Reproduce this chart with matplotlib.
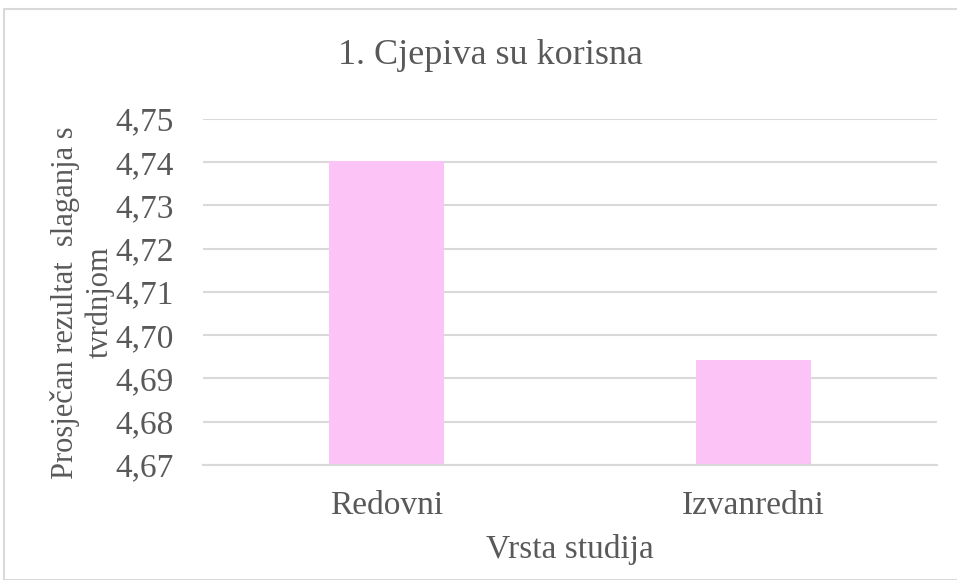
import numpy as np
import matplotlib.pyplot as plt
from matplotlib.patches import Rectangle

kategorije = ["Redovni", "Izvanredni"]
prosjeci = [4.7403, 4.6943]
y_ticks = [4.67, 4.68, 4.69, 4.70, 4.71, 4.72, 4.73, 4.74, 4.75]

siva = "#595959"
plt.rcParams['font.family'] = ['Liberation Serif', 'DejaVu Serif']

fig = plt.figure(figsize=(9.57, 5.8), dpi=100)
ax = fig.add_axes([203 / 957, 1 - 465 / 580, (937 - 203) / 957, (465 - 119) / 580])

x = np.arange(len(kategorije))
ax.bar(x, prosjeci, width=0.313, color="#fcc4f6", zorder=2)

ax.set_xlim(-0.5, 1.5)
ax.set_ylim(4.67, 4.75)
ax.set_yticks(y_ticks)
ax.set_yticklabels([f"{v:.2f}".replace(".", ",") for v in y_ticks])
ax.set_xticks(x)
ax.set_xticklabels(kategorije)
ax.tick_params(length=0, labelsize=24, colors=siva)
ax.tick_params(axis='y', pad=21)
ax.tick_params(axis='x', pad=18)

ax.grid(axis='y', color="#d9d9d9", linewidth=1.5, zorder=0)
for s in ["top", "right", "left"]:
    ax.spines[s].set_visible(False)
ax.spines["bottom"].set_color("#d9d9d9")
ax.spines["bottom"].set_linewidth(1.5)

ax.set_xlabel("Vrsta studija", fontsize=24, color=siva, labelpad=10)
ax.set_ylabel("Prosječan rezultat  slaganja s\ntvrdnjom", fontsize=22, color=siva,
              linespacing=1.25)
ax.yaxis.set_label_coords(-0.12, 0.47)
fig.text(490 / 957, 1 - 55 / 580, "1. Cjepiva su korisna", fontsize=26, color=siva,
         ha="center", va="center")

fig.patches.append(Rectangle((4 / 957, 0), 1, 1 - 9 / 580, transform=fig.transFigure,
                             fill=False, edgecolor="#d9d9d9", linewidth=1.5))

fig.savefig("out.png", dpi=100)
